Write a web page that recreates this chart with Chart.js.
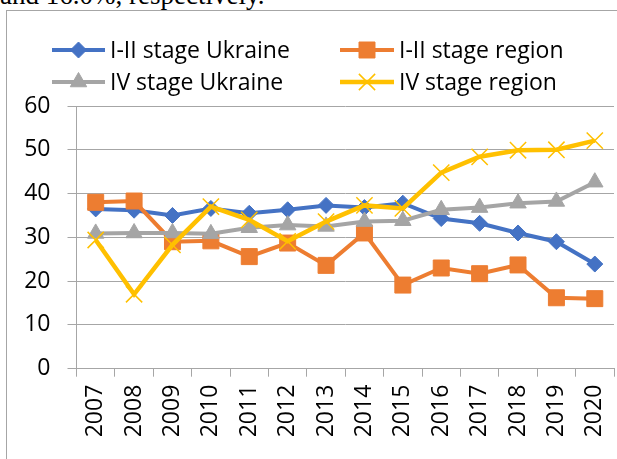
<!DOCTYPE html>
<html>
<head>
<meta charset="utf-8">
<script src="https://cdn.jsdelivr.net/npm/chart.js@4"></script>
<style>
  body { margin: 0; width: 617px; height: 459px; overflow: hidden; background: #fff; position: relative; }
  #note { position: absolute; left: 0; top: -18px; font: 27px/27px "Liberation Serif", "Times New Roman", serif; color: #000; white-space: nowrap; }
  #frame { position: absolute; left: 6px; top: 10px; width: 700px; height: 600px; border: 1px solid #a6a6a6; }
  #wrap { position: absolute; left: 0; top: 0; width: 617px; height: 459px; }
</style>
</head>
<body>
<div id="note">and 16.0%, respectively.</div>
<div id="frame"></div>
<div id="wrap"><canvas id="grafico"></canvas></div>
<script>
const years = ['2007', '2008', '2009', '2010', '2011', '2012', '2013', '2014', '2015', '2016', '2017', '2018', '2019', '2020'];
const stage12Ukraine = [36.5, 36.2, 35.0, 36.6, 35.5, 36.3, 37.3, 36.8, 37.8, 34.3, 33.2, 31.0, 29.0, 23.9];
const stage12Region = [38.0, 38.3, 29.0, 29.2, 25.6, 28.7, 23.6, 31.0, 19.1, 23.0, 21.7, 23.7, 16.2, 16.0];
const stage4Ukraine = [30.9, 31.0, 31.0, 30.8, 32.2, 32.8, 32.5, 33.6, 33.8, 36.3, 36.8, 37.8, 38.2, 42.6];
const stage4Region = [29.4, 17.0, 28.3, 37.0, 34.0, 29.1, 33.6, 37.3, 36.6, 44.8, 48.4, 49.9, 50.0, 52.1];
const yTicks = [0, 10, 20, 30, 40, 50, 60];

const gridColor = '#a6a6a6';

// legend in two columns, like the Excel one
const gridLegend = {
  id: 'gridLegend',
  afterDraw(chart) {
    const ctx = chart.ctx;
    const cols = [{x0: 52, x1: 105, tx: 110}, {x0: 340, x1: 394, tx: 399}];
    const rows = [50, 82];
    chart.data.datasets.forEach((ds, i) => {
      const c = cols[i % 2];
      const y = rows[Math.floor(i / 2)];
      ctx.save();
      ctx.strokeStyle = ds.borderColor;
      ctx.lineWidth = ds.borderWidth;
      ctx.beginPath();
      ctx.moveTo(c.x0, y);
      ctx.lineTo(c.x1, y);
      ctx.stroke();
      ctx.fillStyle = ds.pointBackgroundColor;
      ctx.strokeStyle = ds.pointBorderColor;
      ctx.lineWidth = ds.pointBorderWidth;
      Chart.helpers.drawPoint(ctx, {
        pointStyle: ds.pointStyle,
        radius: ds.pointRadius,
        borderWidth: ds.pointBorderWidth,
        rotation: 0
      }, (c.x0 + c.x1) / 2, y);
      ctx.fillStyle = '#000';
      ctx.font = '23px "Open Sans", sans-serif';
      ctx.textBaseline = 'middle';
      ctx.textAlign = 'left';
      ctx.fillText(ds.label, c.tx, y + 1);
      ctx.restore();
    });
  }
};

function series(label, data, color, style, radius, width, ptBorder, order) {
  return {
    label, data, order,
    borderColor: color,
    backgroundColor: color,
    borderWidth: width,
    pointStyle: style,
    pointRadius: radius,
    pointHoverRadius: radius,
    pointBackgroundColor: color,
    pointBorderColor: color,
    pointBorderWidth: ptBorder,
    tension: 0
  };
}

Chart.defaults.font.family = '"Open Sans", sans-serif';
Chart.defaults.font.size = 23;
Chart.defaults.color = '#000';

const ctx = document.getElementById('grafico').getContext('2d');
new Chart(ctx, {
  type: 'line',
  data: {
    labels: years,
    datasets: [
      series('I-II stage Ukraine', stage12Ukraine, '#4472C4', 'rectRot', 8, 4, 1, 4),
      series('I-II stage region', stage12Region, '#ED7D31', 'rect', 11.3, 4, 1, 3),
      series('IV stage Ukraine', stage4Ukraine, '#A5A5A5', 'triangle', 9.5, 4, 1, 2),
      series('IV stage region', stage4Region, '#FFC000', 'crossRot', 11.5, 4.5, 1.5, 1)
    ]
  },
  options: {
    responsive: true,
    maintainAspectRatio: false,
    animation: false,
    layout: {
      autoPadding: false,
      padding: {top: 106, right: 3, left: 0, bottom: 0}
    },
    plugins: {
      legend: {display: false},
      tooltip: {enabled: false}
    },
    scales: {
      x: {
        offset: true,
        grid: {
          offset: true,
          drawOnChartArea: false,
          drawTicks: true,
          tickLength: 8,
          color: gridColor
        },
        border: {color: gridColor},
        ticks: {
          minRotation: 90,
          maxRotation: 90,
          autoSkip: false,
          padding: 8
        },
        afterFit(scale) {
          scale.height = 90.3;
          scale.paddingLeft = 0;
          scale.paddingRight = 0;
        }
      },
      y: {
        min: yTicks[0],
        max: yTicks[yTicks.length - 1],
        afterBuildTicks(scale) { scale.ticks = yTicks.map(v => ({value: v})); },
        grid: {
          color: gridColor,
          tickLength: 9
        },
        border: {color: gridColor},
        ticks: {padding: 17},
        afterFit(scale) {
          scale.width = 76.5;
          scale.paddingTop = 0;
          scale.paddingBottom = 0;
        }
      }
    }
  },
  plugins: [gridLegend]
});
</script>
</body>
</html>
